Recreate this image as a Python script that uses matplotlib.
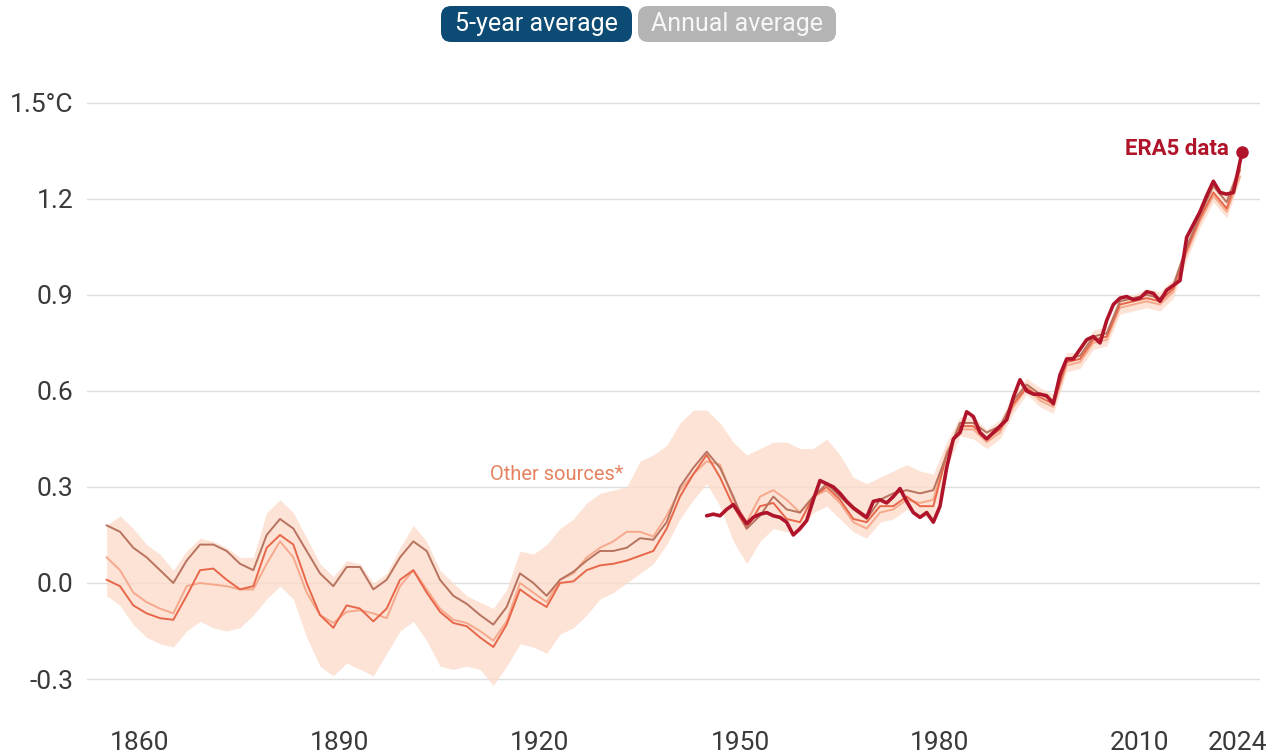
import matplotlib.pyplot as plt
from matplotlib.patches import FancyBboxPatch
import matplotlib.transforms as mtransforms
import numpy as np

plt.rcParams['font.family'] = ['Roboto', 'DejaVu Sans']

# other sources: common 2-year grid
years = np.arange(1855, 2026, 2)

brown = [0.18, 0.16, 0.11, 0.08, 0.04, 0.00, 0.07, 0.12, 0.12, 0.10,
         0.06, 0.04, 0.15, 0.20, 0.17, 0.10, 0.03, -0.01, 0.05, 0.05,
         -0.02, 0.01, 0.08, 0.13, 0.10, 0.01, -0.04, -0.065, -0.10, -0.13,
         -0.075, 0.03, 0.00, -0.04, 0.01, 0.035, 0.07, 0.10, 0.10, 0.11,
         0.14, 0.135, 0.19, 0.30, 0.36, 0.41, 0.36, 0.27, 0.17, 0.21,
         0.27, 0.23, 0.22, 0.27, 0.31, 0.27, 0.23, 0.20, 0.26, 0.28,
         0.29, 0.28, 0.29, 0.40, 0.50, 0.50, 0.47, 0.49, 0.57, 0.62,
         0.59, 0.57, 0.70, 0.71, 0.77, 0.78, 0.88, 0.89, 0.90, 0.89,
         0.93, 1.05, 1.15, 1.24, 1.19, 1.30]

orange = [0.01, -0.01, -0.07, -0.095, -0.11, -0.115, -0.04, 0.04, 0.045, 0.01,
          -0.02, -0.01, 0.11, 0.15, 0.12, 0.00, -0.10, -0.14, -0.07, -0.08,
          -0.12, -0.08, 0.01, 0.04, -0.03, -0.09, -0.125, -0.135, -0.17, -0.20,
          -0.13, -0.02, -0.05, -0.075, 0.00, 0.005, 0.04, 0.055, 0.06, 0.07,
          0.085, 0.10, 0.17, 0.27, 0.34, 0.40, 0.33, 0.24, 0.17, 0.24,
          0.25, 0.20, 0.19, 0.27, 0.30, 0.26, 0.20, 0.19, 0.24, 0.24,
          0.27, 0.24, 0.24, 0.40, 0.49, 0.49, 0.45, 0.48, 0.56, 0.61,
          0.58, 0.56, 0.69, 0.70, 0.76, 0.77, 0.87, 0.88, 0.89, 0.88,
          0.92, 1.04, 1.14, 1.22, 1.17, 1.29]

peach = [0.08, 0.04, -0.03, -0.06, -0.08, -0.095, -0.01, 0.00, -0.005, -0.01,
         -0.02, -0.02, 0.06, 0.13, 0.08, -0.03, -0.10, -0.125, -0.09, -0.085,
         -0.095, -0.11, -0.01, 0.04, -0.02, -0.08, -0.115, -0.125, -0.15, -0.18,
         -0.12, 0.00, -0.03, -0.06, 0.01, 0.03, 0.08, 0.11, 0.13, 0.16,
         0.16, 0.145, 0.21, 0.29, 0.34, 0.38, 0.37, 0.26, 0.19, 0.27,
         0.29, 0.26, 0.22, 0.27, 0.29, 0.25, 0.19, 0.17, 0.22, 0.23,
         0.26, 0.25, 0.26, 0.41, 0.48, 0.48, 0.44, 0.47, 0.55, 0.61,
         0.57, 0.55, 0.68, 0.69, 0.75, 0.76, 0.86, 0.87, 0.88, 0.87,
         0.91, 1.03, 1.13, 1.21, 1.16, 1.27]

band_hi = [0.18, 0.21, 0.17, 0.12, 0.09, 0.04, 0.10, 0.14, 0.13, 0.11,
           0.08, 0.08, 0.22, 0.26, 0.22, 0.14, 0.06, 0.02, 0.07, 0.06,
           0.00, 0.03, 0.11, 0.18, 0.13, 0.04, 0.00, -0.04, -0.06, -0.08,
           -0.02, 0.10, 0.09, 0.12, 0.17, 0.20, 0.25, 0.28, 0.29, 0.30,
           0.38, 0.40, 0.43, 0.50, 0.54, 0.54, 0.50, 0.44, 0.40, 0.42,
           0.44, 0.44, 0.42, 0.42, 0.45, 0.40, 0.33, 0.31, 0.33, 0.35,
           0.37, 0.35, 0.34, 0.44, 0.52, 0.52, 0.48, 0.51, 0.59, 0.64,
           0.61, 0.59, 0.72, 0.72, 0.79, 0.80, 0.90, 0.90, 0.92, 0.91,
           0.95, 1.07, 1.17, 1.26, 1.21, 1.32]

band_lo = [-0.04, -0.07, -0.13, -0.17, -0.19, -0.20, -0.15, -0.12, -0.14, -0.15,
           -0.14, -0.10, -0.05, -0.01, -0.05, -0.17, -0.26, -0.29, -0.25, -0.27,
           -0.29, -0.22, -0.15, -0.12, -0.18, -0.26, -0.27, -0.26, -0.27, -0.32,
           -0.26, -0.19, -0.20, -0.22, -0.16, -0.14, -0.10, -0.05, -0.03, 0.00,
           0.03, 0.06, 0.12, 0.20, 0.26, 0.31, 0.24, 0.13, 0.06, 0.13,
           0.17, 0.16, 0.16, 0.22, 0.24, 0.20, 0.16, 0.14, 0.19, 0.20,
           0.23, 0.21, 0.20, 0.36, 0.46, 0.45, 0.42, 0.45, 0.53, 0.59,
           0.55, 0.53, 0.66, 0.67, 0.73, 0.74, 0.84, 0.85, 0.86, 0.85,
           0.89, 1.01, 1.11, 1.19, 1.14, 1.26]

# ERA5, yearly
era5_years = list(range(1945, 2025)) + [2025.3]
era5 = [0.21, 0.215, 0.21, 0.23, 0.245, 0.215, 0.185, 0.205, 0.215, 0.22,
        0.21, 0.205, 0.19, 0.15, 0.17, 0.195, 0.26, 0.32, 0.31, 0.30,
        0.28, 0.255, 0.235, 0.22, 0.205, 0.255, 0.26, 0.25, 0.27, 0.295,
        0.255, 0.22, 0.205, 0.22, 0.19, 0.24, 0.36, 0.45, 0.47, 0.535,
        0.52, 0.47, 0.45, 0.47, 0.49, 0.51, 0.58, 0.635, 0.60, 0.59,
        0.59, 0.585, 0.56, 0.65, 0.70, 0.70, 0.73, 0.76, 0.77, 0.75,
        0.82, 0.87, 0.89, 0.895, 0.885, 0.89, 0.91, 0.905, 0.88, 0.915,
        0.93, 0.945, 1.08, 1.12, 1.16, 1.21, 1.255, 1.22, 1.215, 1.22,
        1.345]

ytick_vals = [-0.3, 0.0, 0.3, 0.6, 0.9, 1.2, 1.5]
ytick_labels = ['-0.3', '0.0', '0.3', '0.6', '0.9', '1.2', '1.5°C']
xtick_vals = [1860, 1890, 1920, 1950, 1980, 2010, 2025.3]
xtick_labels = ['1860', '1890', '1920', '1950', '1980', '2010', '2024']

W, H = 1269, 754
fig = plt.figure(figsize=(W / 100, H / 100), dpi=100)
ax = fig.add_axes([87 / W, 54 / H, 1173 / W, 640 / H])

ax.fill_between(years, band_lo, band_hi, color='#fcdccb', alpha=0.8, lw=0)
ax.plot(years, peach, color='#f6a98c', lw=1.4)
ax.plot(years, orange, color='#e8674a', lw=1.4)
ax.plot(years, brown, color='#b8735f', lw=1.4)
ax.plot(era5_years, era5, color='#b0142a', lw=2.6, solid_capstyle='round')
ax.plot(era5_years[-1], era5[-1], 'o', color='#b0142a', ms=8)

ax.text(era5_years[-1] - 1.9, era5[-1] + 0.01, 'ERA5 data', color='#b0142a',
        fontsize=16, fontweight='bold', ha='right', va='center')
ax.text(1922.5, 0.34, 'Other sources*', color='#e58260', fontsize=14.5,
        ha='center', va='center')

ax.set_xlim(1852.05, 2028.0)
ax.set_ylim(-0.3656, 1.634)
ax.set_yticks(ytick_vals)
ax.set_yticklabels(ytick_labels)
ax.set_xticks(xtick_vals)
ax.set_xticklabels(xtick_labels)
ax.tick_params(axis='both', length=0, labelsize=19, colors='#3a3a3a')
ax.tick_params(axis='y', pad=10)
ax.tick_params(axis='x', pad=22)
# keep the last year label inside the canvas
last = ax.get_xticklabels()[-1]
last.set_horizontalalignment('right')
last.set_transform(last.get_transform() +
                   mtransforms.ScaledTranslation(25 / 100, 0, fig.dpi_scale_trans))
ax.grid(axis='y', color='#dedede', lw=1)
ax.set_axisbelow(True)
for s in ax.spines.values():
    s.set_visible(False)

# toggle buttons at the top
buttons = [('5-year average', 441, 632, '#0c4c74', 'white'),
           ('Annual average', 638, 836, '#b4b4b4', '#f7f7f7')]
for label, x0, x1, fc, tc in buttons:
    box = FancyBboxPatch((x0 / W, 1 - 42 / H), (x1 - x0) / W, 36 / H,
                         boxstyle='round,pad=0,rounding_size=0.008',
                         transform=fig.transFigure, fc=fc, ec='none',
                         mutation_aspect=W / H)
    fig.patches.append(box)
    fig.text((x0 + x1) / 2 / W, 1 - 24 / H, label, color=tc, fontsize=18,
             ha='center', va='center')

fig.savefig('out.png', dpi=100)
